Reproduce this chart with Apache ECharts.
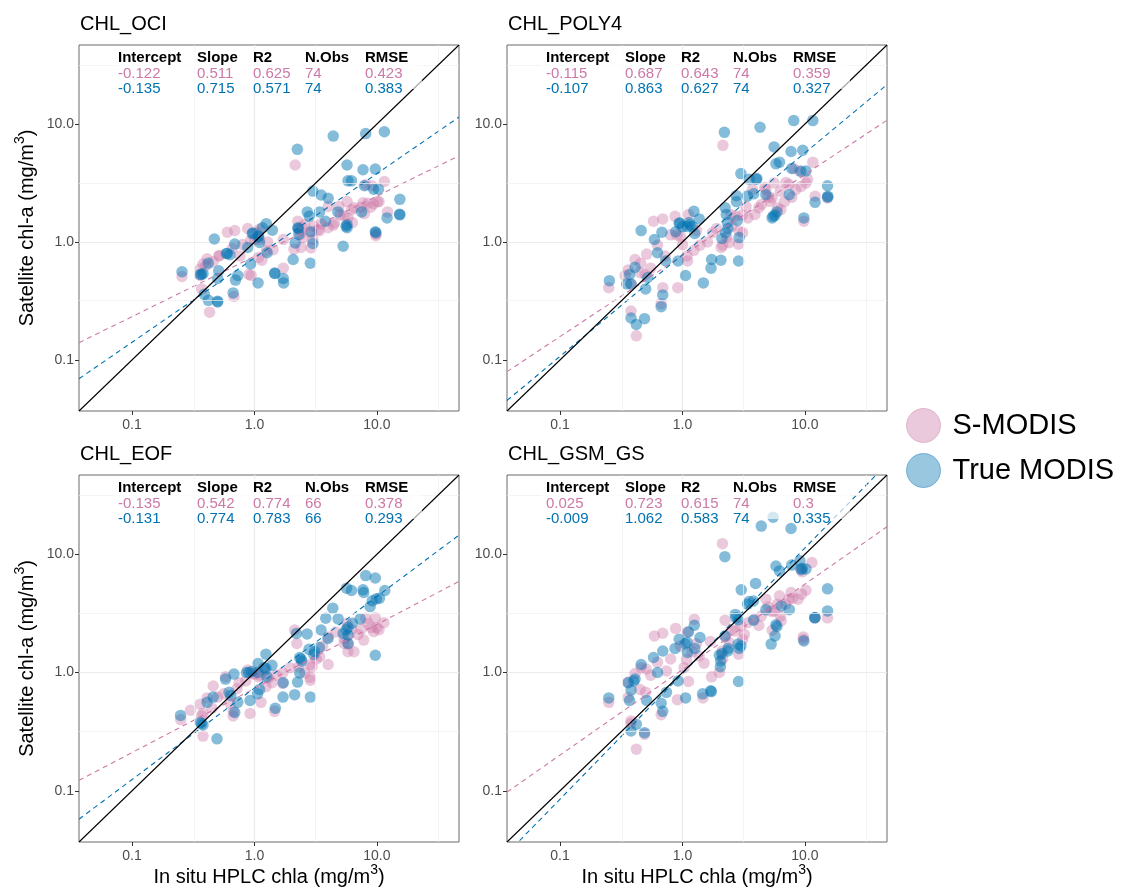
<!DOCTYPE html>
<html><head><meta charset="utf-8">
<script src="https://cdn.jsdelivr.net/npm/echarts@6/dist/echarts.min.js"></script>
<style>html,body{margin:0;padding:0;background:#fff}#c{width:1121px;height:892px}</style>
</head><body><div id="c"></div>
<script>
// ---------------- data ----------------
const panelTitles = ['CHL_OCI', 'CHL_POLY4', 'CHL_EOF', 'CHL_GSM_GS'];
const seriesNames = ['S-MODIS', 'True MODIS'];
const tickValues = [0.1, 1, 10];
const tickLabels = ['0.1', '1.0', '10.0'];
const minorGridValues = [0.316, 3.16, 31.6];
const axisMin = 0.0369, axisMax = 46.8;
const xAxisTitle = 'In situ HPLC chla (mg/m{sup|3})';
const yAxisTitle = 'Satellite chl-a (mg/m{sup|3})';
const statHeaders = ['Intercept', 'Slope', 'R2', 'N.Obs', 'RMSE'];

const ociStatsS = ['-0.122', '0.511', '0.625', '74', '0.423'];
const ociStatsT = ['-0.135', '0.715', '0.571', '74', '0.383'];
const poly4StatsS = ['-0.115', '0.687', '0.643', '74', '0.359'];
const poly4StatsT = ['-0.107', '0.863', '0.627', '74', '0.327'];
const eofStatsS = ['-0.135', '0.542', '0.774', '66', '0.378'];
const eofStatsT = ['-0.131', '0.774', '0.783', '66', '0.293'];
const gsmStatsS = ['0.025', '0.723', '0.615', '74', '0.3'];
const gsmStatsT = ['-0.009', '1.062', '0.583', '74', '0.335'];

const ociTrue = [[4.4,7.9],[8.1,8.3],[11.5,8.6],[2.24,6.1],[5.7,4.5],[7.7,4.1],[9.7,4.15],[5.8,3.3],[6.2,3.3],[7.9,3.0],
[9.4,2.8],[10.3,2.8],[3.0,2.7],[3.5,2.5],[4.0,2.35],[15.4,2.3],[2.7,1.8],[2.8,1.65],[3.4,1.8],[4.8,1.8],
[3.8,1.5],[7.5,1.8],[12.1,1.6],[15.4,1.7],[5.7,1.4],[5.7,1.32],[9.8,1.2],[2.26,1.32],[2.3,1.16],[2.9,1.22],
[3.0,0.97],[2.15,0.98],[5.3,0.92],[1.25,1.43],[1.16,1.32],[1.4,1.26],[0.96,1.18],[1.08,1.12],[1.1,0.99],[0.47,1.06],
[0.69,0.96],[0.59,0.8],[0.63,0.78],[0.88,0.9],[1.27,0.81],[0.93,0.65],[2.07,0.71],[2.86,0.66],[0.42,0.66],[0.36,0.53],
[0.38,0.54],[0.256,0.56],[0.51,0.57],[0.73,0.52],[0.7,0.475],[0.5,0.49],[1.07,0.45],[1.47,0.54],[1.72,0.49],[1.73,0.45],
[0.39,0.36],[0.67,0.37],[0.42,0.32],[0.5,0.31],[15.3,1.72],[1.46,0.545],[0.5,0.315],[0.97,1.19],[1.07,1.1],[5.6,1.36],
[2.28,1.3],[0.37,0.53],[9.7,1.22],[0.6,0.8]];
const ociSmodis = [[2.15,4.5],[11.5,3.26],[8.1,3.06],[9.1,3.0],[10.1,2.2],[9.4,2.1],[8.9,1.97],[7.7,2.15],[7.4,1.97],[8.4,2.13],
[10.4,2.2],[5.7,2.2],[6.5,1.95],[6.2,1.88],[4.9,2.0],[4.0,2.0],[12.2,1.8],[7.9,1.74],[5.4,1.66],[5.8,1.6],
[6.3,1.46],[4.4,1.39],[4.0,1.32],[3.5,1.43],[3.4,1.25],[3.05,1.36],[2.9,1.2],[2.56,1.41],[2.26,1.5],[2.37,1.16],
[2.5,1.09],[3.0,1.05],[2.9,0.89],[2.4,0.9],[2.1,0.87],[1.72,1.05],[1.42,0.86],[1.25,0.84],[1.08,0.74],[1.15,0.7],
[0.94,0.52],[1.72,0.6],[9.8,1.17],[0.88,1.3],[0.69,1.25],[0.6,1.21],[1.1,1.28],[1.0,1.05],[1.28,1.0],[0.93,1.03],
[0.52,0.77],[0.46,0.68],[0.41,0.72],[0.38,0.65],[0.36,0.59],[0.37,0.4],[0.256,0.51],[0.68,0.345],[0.43,0.254],[0.66,0.88],
[0.9,0.53],[3.3,1.27],[0.76,0.76],[0.51,0.76],[2.3,1.28],[1.05,1.2],[0.4,0.63],[2.45,1.33],[5.0,1.7],[9.8,1.13],
[0.36,0.52],[1.1,1.05],[0.8,0.95],[4.5,1.45]];

const poly4True = [[4.3,9.4],[8.1,10.7],[11.6,10.7],[2.2,8.5],[5.6,6.4],[7.7,5.85],[9.6,6.0],[5.8,4.6],[6.2,4.75],[7.8,4.2],
[9.3,3.97],[10.2,4.0],[3.0,3.8],[3.5,3.4],[4.0,3.4],[15.3,3.0],[2.75,2.47],[2.76,2.2],[3.38,2.45],[3.81,2.56],
[4.8,2.52],[7.45,2.52],[12.1,2.17],[15.4,2.44],[2.23,1.95],[2.28,1.71],[2.33,1.46],[2.8,1.52],[2.9,1.09],[2.1,1.07],
[5.7,1.69],[5.9,1.8],[5.5,1.65],[9.8,1.6],[1.24,1.82],[1.09,1.35],[1.13,1.46],[1.37,1.57],[0.94,1.44],[1.26,1.18],
[0.88,1.22],[0.46,1.25],[0.68,1.21],[0.59,1.05],[0.625,0.81],[0.73,0.69],[0.92,0.69],[0.41,0.61],[0.37,0.53],[0.35,0.44],
[0.38,0.44],[0.253,0.47],[0.5,0.4],[0.52,0.5],[1.06,0.52],[1.48,0.45],[1.73,0.71],[2.06,0.7],[1.71,0.6],[2.87,0.69],
[0.69,0.356],[0.67,0.283],[0.38,0.227],[0.49,0.224],[0.42,0.2],[2.25,1.2],[1.0,1.35],[1.2,1.35],[5.4,1.6],[0.95,1.45],
[2.35,1.3],[4.05,3.45],[1.15,1.4],[15.3,2.4]];
const poly4Smodis = [[2.14,6.6],[11.6,4.75],[10.2,3.16],[9.3,2.96],[8.4,2.78],[7.8,2.39],[7.4,3.07],[6.3,2.7],[5.6,3.16],[4.8,2.78],
[5.4,2.36],[5.2,2.21],[6.0,1.95],[6.35,1.88],[4.42,2.08],[3.73,2.78],[3.9,1.71],[3.42,1.6],[3.09,1.69],[2.73,1.66],
[2.53,1.36],[2.9,1.24],[2.87,0.956],[2.4,0.987],[2.13,0.94],[2.07,0.9],[1.76,1.2],[1.39,0.94],[1.24,0.85],[1.09,0.76],
[1.1,0.69],[0.96,1.12],[0.87,1.65],[1.12,1.71],[0.69,1.57],[0.58,1.5],[0.625,0.94],[0.72,0.76],[0.51,0.79],[0.456,0.66],
[0.41,0.71],[0.36,0.58],[0.38,0.44],[0.25,0.41],[0.495,0.53],[0.69,0.41],[0.915,0.41],[0.67,0.3],[0.38,0.26],[0.42,0.16],
[9.8,1.5],[12.1,2.44],[15.3,2.36],[0.8,1.15],[1.3,1.25],[1.9,1.3],[0.34,0.52],[0.55,0.6],[3.3,2.0],[4.2,1.95],
[5.0,2.4],[6.8,2.2],[8.1,4.2],[9.0,4.0],[7.0,3.2],[2.5,1.7],[1.0,0.95],[0.45,0.55],[10.5,3.4],[3.1,1.2],
[1.6,1.0],[0.9,1.15],[2.3,1.1],[4.7,2.9]];

const eofTrue = [[8.1,6.6],[9.7,6.3],[5.65,5.17],[6.2,4.94],[7.7,5.0],[7.8,4.75],[11.6,4.94],[9.15,4.04],[9.9,4.2],[10.5,4.25],
[8.8,3.61],[4.36,3.5],[3.82,2.88],[4.82,2.84],[6.3,2.61],[7.3,2.84],[3.5,2.29],[5.3,2.14],[5.8,2.41],[5.8,2.07],
[5.8,1.76],[2.69,2.12],[2.2,2.14],[3.99,1.94],[3.39,1.63],[2.79,1.57],[3.05,1.42],[2.34,1.34],[2.43,1.25],[2.34,0.99],
[2.25,0.83],[1.72,0.82],[2.13,0.65],[1.71,0.62],[2.86,0.62],[9.7,1.4],[1.24,1.43],[1.07,1.19],[1.39,1.15],[1.24,1.08],
[1.26,0.92],[0.9,1.0],[0.86,1.0],[1.07,1.0],[0.68,0.97],[0.58,0.88],[0.62,0.68],[0.64,0.64],[0.46,0.62],[0.41,0.56],
[0.73,0.56],[0.92,0.58],[1.06,0.66],[1.1,0.72],[1.48,0.5],[0.69,0.46],[0.249,0.434],[0.36,0.38],[0.38,0.36],[0.494,0.275],
[0.95,1.02],[1.2,1.1],[2.4,1.3],[0.37,0.37],[5.6,2.3],[3.1,1.5]];
const eofSmodis = [[2.13,2.29],[2.22,1.76],[8.1,2.88],[9.7,2.9],[10.4,2.3],[9.4,2.21],[11.4,2.64],[10.0,2.4],[7.45,2.32],[7.8,1.88],
[5.7,2.6],[6.2,2.3],[5.4,1.76],[5.8,1.5],[6.5,1.5],[5.85,1.74],[5.4,1.94],[3.99,2.0],[3.6,1.67],[3.41,1.36],
[4.0,1.17],[2.86,1.17],[2.95,1.12],[2.3,1.12],[2.57,0.99],[2.86,0.91],[2.86,0.86],[1.7,0.99],[1.7,0.81],[1.39,0.82],
[1.24,0.76],[1.08,0.92],[1.0,0.97],[0.88,1.05],[0.98,0.98],[1.11,0.95],[0.58,0.92],[0.46,0.77],[0.72,0.73],[0.5,0.62],
[0.41,0.61],[0.36,0.54],[0.63,0.55],[0.67,0.47],[0.67,0.43],[1.13,0.56],[0.92,0.45],[1.46,0.47],[0.38,0.45],[0.37,0.43],
[0.25,0.4],[0.38,0.29],[0.56,0.66],[0.85,0.85],[1.3,0.9],[1.5,0.95],[4.6,2.2],[7.0,2.1],[8.5,2.6],[1.95,1.1],
[3.2,1.3],[0.45,0.5],[0.75,0.82],[1.2,1.05],[9.0,2.4],[0.3,0.48]];

const gsmTrue = [[5.5,20.6],[4.4,17.3],[7.7,16.5],[2.22,9.55],[5.8,7.96],[6.2,7.23],[7.8,8.1],[9.1,8.8],[9.3,7.4],[10.2,7.5],
[15.3,5.1],[3.95,5.67],[3.02,5.0],[3.5,3.98],[3.8,4.03],[3.4,3.78],[4.8,3.4],[6.4,3.66],[7.45,3.4],[2.7,3.1],
[2.73,2.9],[2.85,2.78],[3.8,2.77],[15.3,3.32],[12.1,2.92],[5.8,2.53],[5.7,2.04],[5.3,1.74],[9.8,1.85],[2.23,2.04],
[2.36,1.6],[2.35,1.52],[2.1,1.45],[2.05,1.25],[2.04,1.12],[3.0,1.68],[2.85,1.74],[2.87,0.84],[1.39,1.98],[1.25,2.51],
[1.12,2.2],[1.26,1.6],[1.09,1.8],[1.1,1.48],[0.94,1.91],[0.87,1.6],[0.69,1.52],[0.58,1.34],[0.46,1.17],[0.625,1.0],
[0.92,0.85],[0.41,0.88],[0.36,0.82],[0.38,0.71],[0.37,0.58],[0.25,0.61],[0.51,0.58],[0.74,0.68],[0.67,0.55],[0.69,0.47],
[1.06,0.61],[1.46,0.66],[1.72,0.69],[0.42,0.365],[0.38,0.32],[0.49,0.31],[1.05,1.75],[2.9,1.6],[0.4,0.85],[12.0,2.9],
[1.7,0.7],[5.9,2.45],[2.0,1.4],[9.5,7.6]];
const gsmSmodis = [[2.12,12.3],[11.4,8.5],[9.3,7.5],[9.5,7.1],[10.2,4.96],[9.4,4.6],[8.8,4.17],[7.95,4.25],[7.7,4.75],[7.4,4.17],
[6.95,3.78],[6.2,4.45],[5.96,3.78],[4.8,4.17],[5.3,3.3],[5.6,3.3],[6.4,2.73],[5.4,2.28],[6.3,3.0],[4.4,3.0],
[3.85,2.82],[3.4,2.64],[3.0,2.48],[2.23,2.77],[2.7,2.25],[2.23,2.0],[2.4,1.79],[2.1,1.52],[2.13,1.3],[2.87,1.43],
[1.69,1.83],[1.37,1.38],[1.25,2.82],[1.1,2.2],[0.88,2.36],[0.96,1.68],[1.08,1.29],[1.03,1.1],[0.74,1.03],[0.69,2.15],
[0.59,2.04],[0.625,1.22],[0.505,1.07],[0.46,1.1],[0.41,0.98],[0.36,0.83],[1.12,0.84],[1.73,0.92],[0.91,0.59],[1.47,0.61],
[0.5,0.68],[0.36,0.615],[0.25,0.56],[0.67,0.44],[0.38,0.39],[0.38,0.37],[0.49,0.3],[0.42,0.225],[12.1,2.9],[15.3,2.9],
[9.7,2.0],[9.7,1.9],[1.2,1.5],[2.5,2.3],[3.2,2.1],[4.2,2.5],[1.3,1.75],[0.55,0.95],[5.0,3.6],[0.8,1.3],
[1.5,1.2],[2.0,1.0],[3.1,1.9],[0.45,0.72]];

// ---------------- layout / style ----------------
const FONT = '"Liberation Sans", Arial, Helvetica, sans-serif';
const PINK = '#CC79A7', BLUE = '#0072B2';
const PINK_PT = 'rgba(204,121,167,0.5)', BLUE_PT = 'rgba(0,114,178,0.6)';
const panels = [
  { title: panelTitles[0], s: ociSmodis, t: ociTrue, statS: ociStatsS, statT: ociStatsT },
  { title: panelTitles[1], s: poly4Smodis, t: poly4True, statS: poly4StatsS, statT: poly4StatsT },
  { title: panelTitles[2], s: eofSmodis, t: eofTrue, statS: eofStatsS, statT: eofStatsT },
  { title: panelTitles[3], s: gsmSmodis, t: gsmTrue, statS: gsmStatsS, statT: gsmStatsT }
];
const layout = [
  { left: 79, top: 45, width: 380, height: 366 },
  { left: 507, top: 45, width: 380, height: 366 },
  { left: 79, top: 475, width: 380, height: 367 },
  { left: 507, top: 475, width: 380, height: 367 }
];
const colOffsets = [39, 118, 174, 226, 286];
const rowOffsets = [13, 29, 44];

function fmtTick(v) {
  for (let i = 0; i < tickValues.length; i++) {
    if (Math.abs(Math.log10(v) - Math.log10(tickValues[i])) < 1e-6) return tickLabels[i];
  }
  return '';
}
function regLine(a, b) {
  return [axisMin, axisMax].map(x => [x, Math.pow(10, a + b * Math.log10(x))]);
}

const grid = [], xAxis = [], yAxis = [], series = [], graphic = [];
panels.forEach((p, i) => {
  const g = layout[i];
  grid.push({ left: g.left, top: g.top, width: g.width, height: g.height, show: true,
    borderColor: '#6b6b6b', borderWidth: 1, backgroundColor: 'transparent' });
  const ax = (isX) => ({
    type: 'log', logBase: 10, gridIndex: i, min: axisMin, max: axisMax,
    axisLine: { show: false },
    axisTick: { show: true, inside: false, length: 4, lineStyle: { color: '#333', width: 1 }, customValues: tickValues },
    axisLabel: { customValues: tickValues, formatter: fmtTick, color: '#4d4d4d', fontSize: 14,
      fontFamily: FONT, margin: isX ? 7 : 5 },
    splitLine: { show: true, showMinLine: false, showMaxLine: false, lineStyle: { color: '#ebebeb', width: 1.2 } },
    minorTick: { show: false }, minorSplitLine: { show: false }
  });
  xAxis.push(ax(true));
  yAxis.push(ax(false));

  // minor grid lines
  series.push({ type: 'line', xAxisIndex: i, yAxisIndex: i, data: [], silent: true, z: 1,
    markLine: { silent: true, symbol: 'none', label: { show: false }, animation: false,
      lineStyle: { color: '#efefef', width: 0.7, type: 'solid' },
      data: minorGridValues.map(v => ({ xAxis: v })).concat(minorGridValues.map(v => ({ yAxis: v }))) } });
  series.push({ name: seriesNames[0], type: 'scatter', xAxisIndex: i, yAxisIndex: i, data: p.s,
    symbolSize: 11.5, itemStyle: { color: PINK_PT }, z: 2, silent: true });
  series.push({ name: seriesNames[1], type: 'scatter', xAxisIndex: i, yAxisIndex: i, data: p.t,
    symbolSize: 11.5, itemStyle: { color: BLUE_PT }, z: 3, silent: true });
  series.push({ type: 'line', xAxisIndex: i, yAxisIndex: i, silent: true, z: 4, symbol: 'none',
    data: regLine(parseFloat(p.statS[0]), parseFloat(p.statS[1])),
    lineStyle: { color: PINK, width: 1.1, type: [5, 4] } });
  series.push({ type: 'line', xAxisIndex: i, yAxisIndex: i, silent: true, z: 4, symbol: 'none',
    data: regLine(parseFloat(p.statT[0]), parseFloat(p.statT[1])),
    lineStyle: { color: BLUE, width: 1.1, type: [5, 4] } });
  series.push({ type: 'line', xAxisIndex: i, yAxisIndex: i, silent: true, z: 5, symbol: 'none',
    data: [[axisMin, axisMin], [axisMax, axisMax]],
    lineStyle: { color: '#000', width: 1.1 } });

  // panel title
  graphic.push({ type: 'text', x: g.left + 1, y: g.top - 21, z: 60,
    style: { text: p.title, fontSize: 20, fontFamily: FONT, fill: '#000', align: 'left', verticalAlign: 'middle' } });
  // table background
  graphic.push({ type: 'rect', z: 50, shape: { x: g.left + 34, y: g.top + 4, width: 309, height: 40 },
    style: { fill: 'rgba(255,255,255,0.65)' } });
  statHeaders.forEach((h, k) => {
    graphic.push({ type: 'text', x: g.left + colOffsets[k], y: g.top + rowOffsets[0], z: 60,
      style: { text: h, fontSize: 15, fontWeight: 'bold', fontFamily: FONT, fill: '#000', align: 'left', verticalAlign: 'middle' } });
    graphic.push({ type: 'text', x: g.left + colOffsets[k], y: g.top + rowOffsets[1], z: 60,
      style: { text: p.statS[k], fontSize: 15, fontFamily: FONT, fill: PINK, align: 'left', verticalAlign: 'middle' } });
    graphic.push({ type: 'text', x: g.left + colOffsets[k], y: g.top + rowOffsets[2], z: 60,
      style: { text: p.statT[k], fontSize: 15, fontFamily: FONT, fill: BLUE, align: 'left', verticalAlign: 'middle' } });
  });
});

const richSup = { sup: { fontSize: 14, fontFamily: FONT, fill: '#000', verticalAlign: 'top', lineHeight: 14 } };
[0, 2].forEach(i => {
  const g = layout[i];
  graphic.push({ type: 'text', x: 27, y: g.top + g.height / 2, rotation: Math.PI / 2, z: 60,
    style: { text: yAxisTitle, fontSize: 20, lineHeight: 28, fontFamily: FONT, fill: '#000',
      align: 'center', verticalAlign: 'middle', rich: richSup } });
});
[2, 3].forEach(i => {
  const g = layout[i];
  graphic.push({ type: 'text', x: g.left + g.width / 2, y: 877, z: 60,
    style: { text: xAxisTitle, fontSize: 20, lineHeight: 28, fontFamily: FONT, fill: '#000',
      align: 'center', verticalAlign: 'middle', rich: richSup } });
});

const chart = echarts.init(document.getElementById('c'), null, { renderer: 'canvas', width: 1121, height: 892 });
chart.setOption({
  animation: false,
  backgroundColor: '#fff',
  textStyle: { fontFamily: FONT },
  grid, xAxis, yAxis, series, graphic,
  legend: {
    orient: 'vertical', left: 906, top: 408, padding: 0, itemWidth: 34, itemHeight: 34, itemGap: 10,
    icon: 'circle', selectedMode: false,
    textStyle: { fontSize: 29, color: '#000', fontFamily: FONT, padding: [0, 0, 0, 7] },
    data: [
      { name: seriesNames[0], itemStyle: { color: PINK_PT, borderColor: 'rgba(204,121,167,0.55)', borderWidth: 1 } },
      { name: seriesNames[1], itemStyle: { color: 'rgba(0,114,178,0.5)', borderColor: 'rgba(0,114,178,0.55)', borderWidth: 1 } }
    ]
  }
});
</script>
</body></html>
